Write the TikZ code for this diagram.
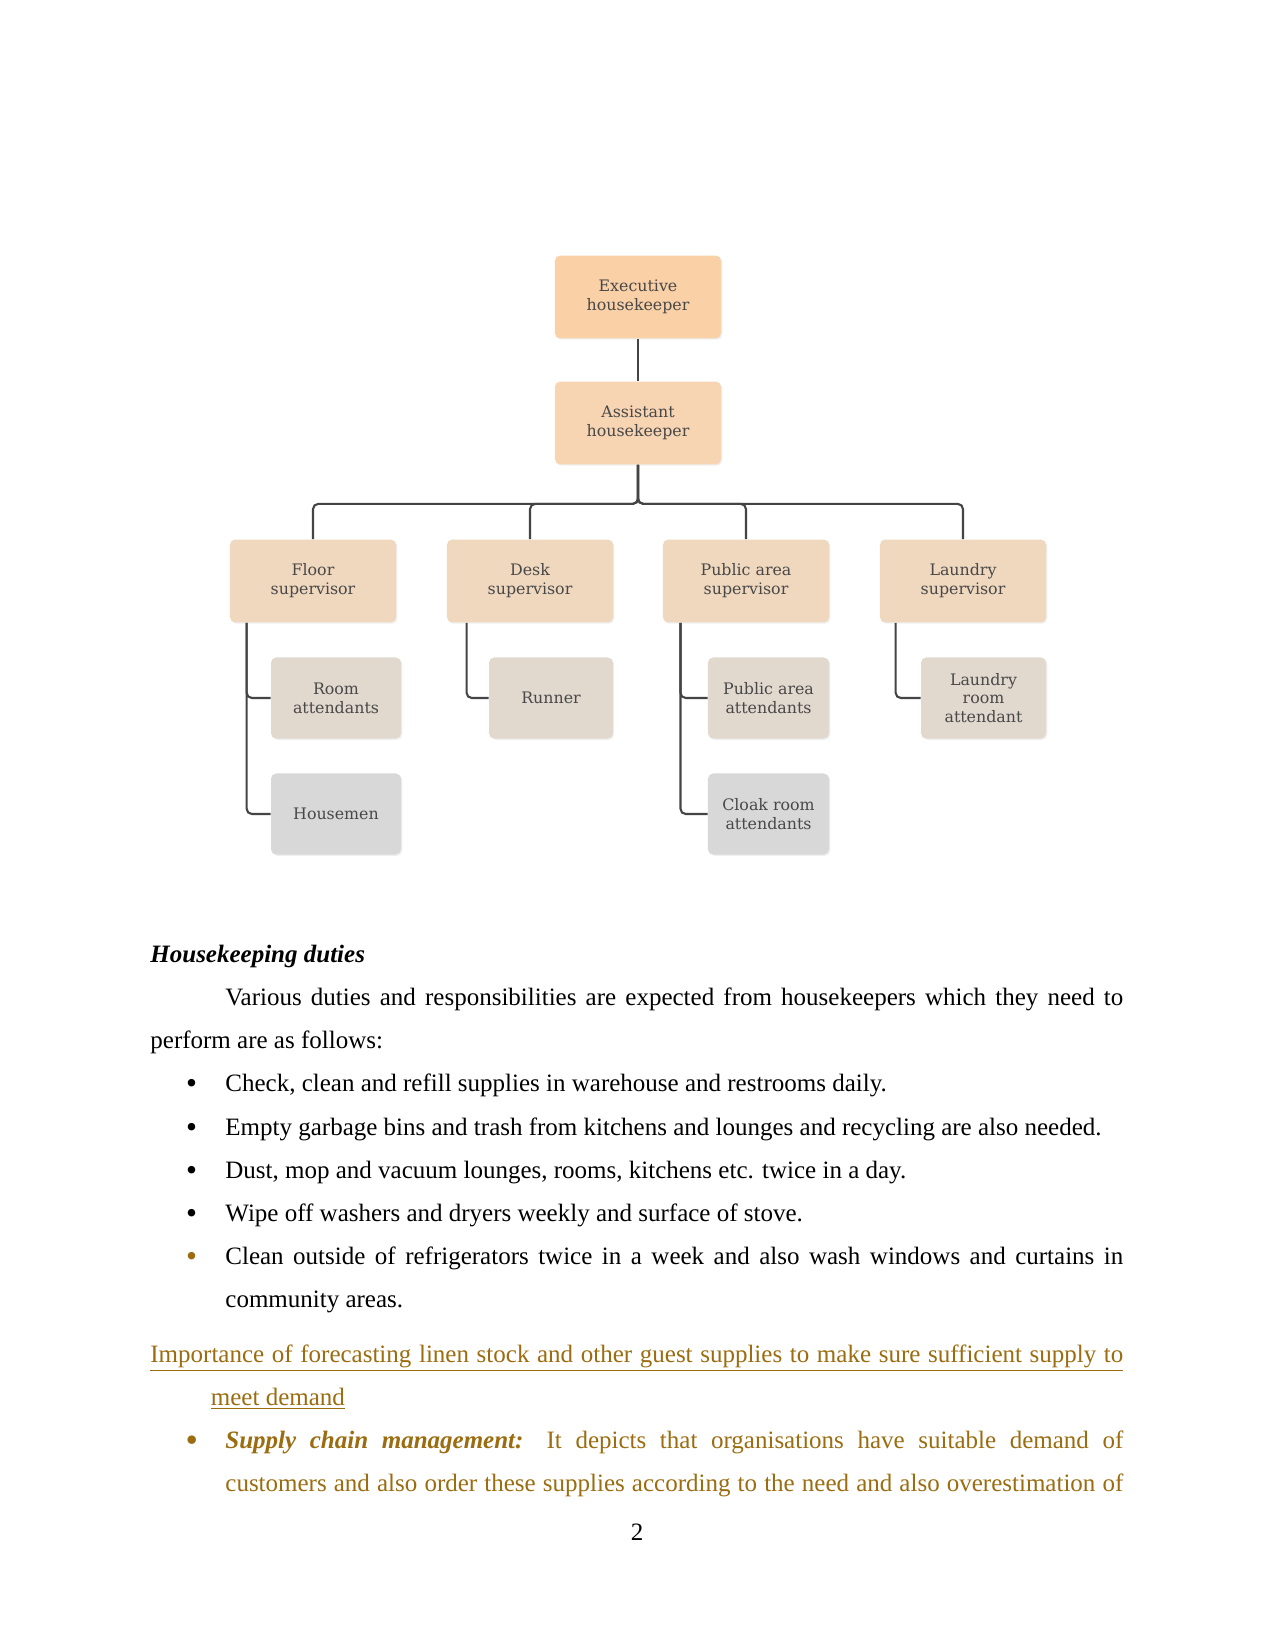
\documentclass[tikz,border=0pt]{standalone}
\usepackage{fontspec}
\setmainfont{Liberation Serif}
\newfontfamily\boxfont{DejaVu Serif}
\usetikzlibrary{shadows}
\definecolor{execc}{RGB}{250,208,167}
\definecolor{asstc}{RGB}{247,212,178}
\definecolor{supc}{RGB}{240,216,191}
\definecolor{attc}{RGB}{225,216,206}
\definecolor{grayc}{RGB}{216,216,216}
\definecolor{boxtext}{RGB}{72,72,72}
\definecolor{linec}{RGB}{68,68,68}
\definecolor{gold}{RGB}{155,108,16}
\begin{document}
\begin{tikzpicture}[x=0.48pt,y=-0.48pt,
  box/.style={rounded corners=2.5pt, inner sep=2pt, align=center,
    font=\boxfont\fontsize{7.6}{9}\selectfont, text=boxtext,
    drop shadow={opacity=0.12, shadow xshift=0.6pt, shadow yshift=-0.6pt}},
  mainbox/.style={box, minimum width=79.7pt, minimum height=39.8pt},
  subbox/.style={box, minimum height=38.9pt},
  conn/.style={draw=linec, line width=1pt, rounded corners=2.5pt},
  txt/.style={anchor=base west, inner sep=0pt, font=\fontsize{12}{14}\selectfont},
  bul/.style={anchor=base, inner sep=0pt, font=\fontsize{15}{15}\selectfont},
  pgnum/.style={anchor=base, inner sep=0pt, font=\fontsize{12}{14}\selectfont}]
\useasboundingbox[fill=white] (0,0) rectangle (1275,1651);

% boxes
\node[mainbox, fill=execc] (exec) at (638,297) {Executive\\housekeeper};
\node[mainbox, fill=asstc] (asst) at (638,423) {Assistant\\housekeeper};
\node[mainbox, fill=supc] (floor) at (313,581) {Floor\\supervisor};
\node[mainbox, fill=supc] (desk) at (530,581) {Desk\\supervisor};
\node[mainbox, fill=supc] (public) at (746,581) {Public area\\supervisor};
\node[mainbox, fill=supc] (laundry) at (963,581) {Laundry\\supervisor};
\node[subbox, fill=attc, minimum width=62.4pt] (room) at (336,698) {Room\\attendants};
\node[subbox, fill=grayc, minimum width=62.4pt] (housemen) at (336,814) {Housemen};
\node[subbox, fill=attc, minimum width=59.5pt] (runner) at (551,698) {Runner};
\node[subbox, fill=attc, minimum width=58.1pt] (pubatt) at (768.5,698) {Public area\\attendants};
\node[subbox, fill=grayc, minimum width=58.1pt] (cloak) at (768.5,814) {Cloak room\\attendants};
\node[subbox, fill=attc, minimum width=60pt] (laundatt) at (983.5,698) {Laundry\\room\\attendant};

% connectors
\draw[conn] (exec.south) -- (asst.north);
\draw[conn] (asst.south) -- ++(0,39) -| (floor.north);
\draw[conn] (asst.south) -- ++(0,39) -| (desk.north);
\draw[conn] (asst.south) -- ++(0,39) -| (public.north);
\draw[conn] (asst.south) -- ++(0,39) -| (laundry.north);
\draw[conn] ([xshift=8.2pt]floor.south west) |- (room.west);
\draw[conn] ([xshift=8.2pt]floor.south west) |- (housemen.west);
\draw[conn] ([xshift=9.6pt]desk.south west) |- (runner.west);
\draw[conn] ([xshift=8.6pt]public.south west) |- (pubatt.west);
\draw[conn] ([xshift=8.6pt]public.south west) |- (cloak.west);
\draw[conn] ([xshift=7.7pt]laundry.south west) |- (laundatt.west);

% body text
\node[txt] (h1) at (150,962) {\textbf{\textit{Housekeeping duties}}};
\node[txt] (p1) at (225,1005) {\makebox[431pt][s]{Various duties and responsibilities are expected from housekeepers which they need to}};
\node[txt] (p2) at (150,1048) {perform are as follows:};
\node[bul] (b1) at (191.7,1093) {\textbullet};
\node[txt] (t1) at (225,1091) {Check, clean and refill supplies in warehouse and restrooms daily.};
\node[bul] (b2) at (191.7,1137) {\textbullet};
\node[txt] (t2) at (225,1135) {Empty garbage bins and trash from kitchens and lounges and recycling are also needed.};
\node[bul] (b3) at (191.7,1180) {\textbullet};
\node[txt] (t3) at (225,1178) {Dust, mop and vacuum lounges, rooms, kitchens etc. twice in a day.};
\node[bul] (b4) at (191.7,1223) {\textbullet};
\node[txt] (t4) at (225,1221) {Wipe off washers and dryers weekly and surface of stove.};
\node[bul, text=gold] (b5) at (191.7,1266) {\textbullet};
\node[txt] (t5) at (225,1264) {\makebox[431pt][s]{Clean outside of refrigerators twice in a week and also wash windows and curtains in}};
\node[txt] (t5b) at (225,1307) {community areas.};
\node[txt, text=gold] (h2) at (150,1362) {\underline{\makebox[467pt][s]{Importance of forecasting linen stock and other guest supplies to make sure sufficient supply to}}};
\node[txt, text=gold] (h2b) at (210.5,1405) {\underline{meet demand}};
\node[bul, text=gold] (b6) at (191.7,1450) {\textbf{\textit{\textbullet}}};
\node[txt, text=gold] (t6) at (225,1448) {\makebox[431pt][s]{\textbf{\textit{Supply chain management:}} It depicts that organisations have suitable demand of}};
\node[txt, text=gold] (t6b) at (225,1491) {\makebox[431pt][s]{customers and also order these supplies according to the need and also overestimation of}};
\node[pgnum] (pg) at (637,1540) {2};
\end{tikzpicture}
\end{document}
